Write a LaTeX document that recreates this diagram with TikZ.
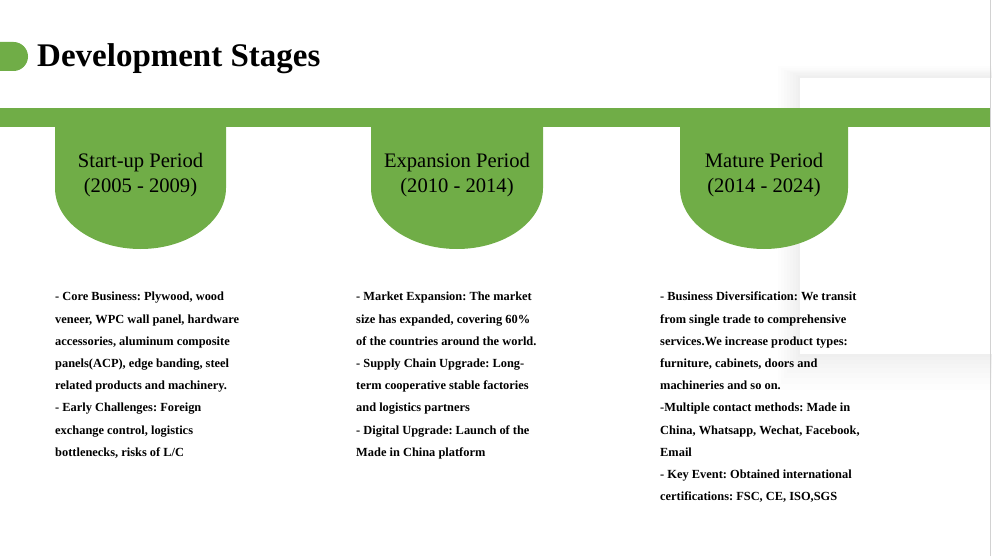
\documentclass[tikz,border=0pt]{standalone}
\usepackage{fontspec}
\setmainfont{Liberation Serif}
\usetikzlibrary{calc}

\definecolor{stagegreen}{RGB}{112,173,71}
\tikzset{
  stagetab/.style={fill=stagegreen},
  periodlabel/.style={font=\fontsize{20.6}{25.5}\selectfont, align=center},
  stagetext/.style={font=\bfseries\fontsize{12.4}{22.2}\selectfont\frenchspacing,
    align=left, anchor=north west, inner sep=0pt},
  panelshade/.style={fill=black,opacity=0.007},
}

\begin{document}
\begin{tikzpicture}[x=1pt,y=-1pt]
  \useasboundingbox (0,0) rectangle (992,556);
  % faint panel on the right
  \fill[panelshade] (778,66) rectangle (992,390);
  \fill[panelshade] (781,68) rectangle (992,384);
  \fill[panelshade] (784,70) rectangle (992,378);
  \fill[panelshade] (787,71) rectangle (992,373);
  \fill[panelshade] (790,72) rectangle (992,368);
  \fill[panelshade] (793,73) rectangle (992,364);
  \fill[panelshade] (796,75) rectangle (992,360);
  \fill[panelshade] (798,76) rectangle (992,357);
  \fill[white] (800,78) rectangle (992,354);
  \draw[gray!35,line width=1.5pt] (990.5,0) -- (990.5,556);
  % title
  \fill[stagegreen] (0,42) -- (13.5,42) arc[start angle=90, end angle=-90, radius=14.5pt] -- (0,71) -- cycle;
  \node[anchor=base west,inner sep=0pt,font=\bfseries\fontsize{33}{38}\selectfont] (title) at (37,67)
    {Development Stages};
  % bar and tabs
  \fill[stagegreen] (0,108) rectangle (990,127);
  \fill[stagetab] (55,126) -- (55,188)
    arc[start angle=180, end angle=360, x radius=85.5pt, y radius=61pt] -- (226,126) -- cycle;
  \fill[stagetab] (371,126) -- (371,188)
    arc[start angle=180, end angle=360, x radius=86pt, y radius=61pt] -- (543,126) -- cycle;
  \fill[stagetab] (680,126) -- (680,188)
    arc[start angle=180, end angle=360, x radius=84pt, y radius=61pt] -- (848,126) -- cycle;
  \node[periodlabel] (startup) at (140.5,175) {Start-up Period\\(2005 - 2009)};
  \node[periodlabel] (expansion) at (457,175) {Expansion Period\\(2010 - 2014)};
  \node[periodlabel] (mature) at (764,175) {Mature Period\\(2014 - 2024)};
  % stage texts
  \node[stagetext] (startupText) at (55,292)
    {- Core Business: Plywood, wood\\
     veneer, WPC wall panel, hardware\\
     accessories, aluminum composite\\
     panels(ACP), edge banding, steel\\
     related products and machinery.\\
     - Early Challenges: Foreign\\
     exchange control, logistics\\
     bottlenecks, risks of L/C};
  \node[stagetext] (expansionText) at (356,292)
    {- Market Expansion: The market\\
     size has expanded, covering 60\%\\
     of the countries around the world.\\
     - Supply Chain Upgrade: Long-\\
     term cooperative stable factories\\
     and logistics partners\\
     - Digital Upgrade: Launch of the\\
     Made in China platform};
  \node[stagetext] (matureText) at (660,292)
    {- Business Diversification: We transit\\
     from single trade to comprehensive\\
     services.We increase product types:\\
     furniture, cabinets, doors and\\
     machineries and so on.\\
     -Multiple contact methods: Made in\\
     China, Whatsapp, Wechat, Facebook,\\
     Email\\
     - Key Event: Obtained international\\
     certifications: FSC, CE, ISO,SGS};
\end{tikzpicture}
\end{document}
